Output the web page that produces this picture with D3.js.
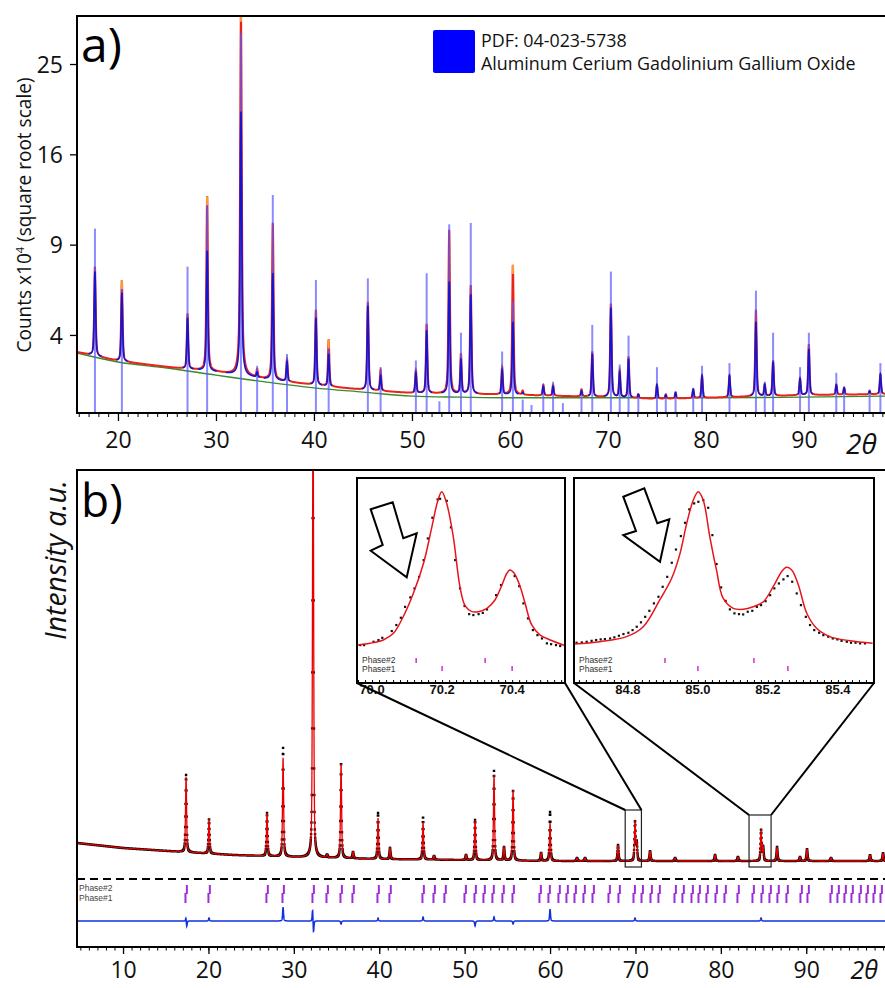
<!DOCTYPE html>
<html><head><meta charset="utf-8">
<script src="https://cdn.jsdelivr.net/npm/d3@7"></script>
<style>body{margin:0;background:#fff}svg{display:block}</style>
</head><body>
<svg id="chart" width="885" height="988"></svg>
<script>
// ================= DATA =================
// Panel a (square-root scale, counts x10^4)
const aTicksX = [20,30,40,50,60,70,80,90];
const aTicksY = [4,9,16,25];
const aBgPos = [15.8,20,25,30,35,40,45,50,55,60,70,80,90,98.3];
const aBgVal = [3.24,2.89,2.67,2.42,2.19,2.00,1.87,1.75,1.72,1.70,1.70,1.70,1.72,1.75];
const aObsBasePos = [15.8,20,25,30,35,40,45,50,55,60,70,75,80,90,98.3];
const aObsBaseVal = [3.28,2.93,2.71,2.53,2.29,2.09,1.94,1.84,1.81,1.79,1.72,1.67,1.70,1.78,1.81];
const aPeakPos  = [17.65,20.4,27.1,29.1,32.55,34.2,35.8,37.25,40.2,41.5,45.5,46.8,50.4,51.5,52.8,53.8,55.0,56.0,59.2,60.3,61.3,62.2,63.4,64.4,65.4,67.3,68.4,70.3,71.2,72.1,73.1,75.0,75.9,76.9,78.7,79.6,82.4,85.1,86.0,86.85,89.6,90.5,93.3,94.1,96.7,97.8];
const aStickTop = [10.1,6.3,7.6,11.8,28.5,2.75,12.6,3.2,6.8,3.4,6.9,2.7,2.95,7.2,1.6,10.4,4.1,10.5,3.3,5.6,1.65,1.5,2.1,2.2,1.55,1.95,4.46,7.3,2.8,3.97,1.8,2.7,1.75,1.9,2.0,2.75,2.85,6.2,2.2,4.1,2.7,4.1,2.5,2.05,1.95,2.85];
const aObsTop   = [7.6,6.8,5.0,12.5,31,2.6,10.5,3.0,5.2,3.8,5.6,2.6,2.6,4.5,null,10.0,3.2,6.5,2.7,7.7,1.9,null,2.1,2.1,null,1.95,3.3,5.5,2.6,3.1,1.8,2.1,1.8,1.85,1.95,2.4,2.4,5.2,2.1,2.95,2.3,3.6,2.1,2.0,1.9,2.45];
const aCalcTop  = [7.3,6.1,4.8,8.6,20,2.5,7.2,2.9,4.8,3.2,5.4,2.4,2.5,4.2,null,6.7,3.0,6.0,2.6,4.6,1.85,null,2.05,2.05,null,1.9,3.2,5.3,2.5,3.0,1.8,2.1,1.78,1.85,1.95,2.4,2.4,4.6,2.1,2.9,2.3,3.4,2.1,2.0,1.9,2.45];
const aOrangeTips = [20.4,29.1,32.55,41.5,60.3];
const legendLines = ["PDF: 04-023-5738","Aluminum Cerium Gadolinium Gallium Oxide"];

// Panel b (Rietveld, arbitrary units)
const bTicksX = [10,20,30,40,50,60,70,80,90];
const bBgPos = [4.6,10,17,23,30,40,50,60,80,99.3];
const bBgVal = [104,99,95,92,90,88,87,86,86,86];
const bPeakPos = [17.38,20.07,26.86,28.74,32.25,33.89,35.53,36.93,39.86,41.26,45.13,46.42,50.16,51.22,53.44,54.61,55.67,58.95,60.0,63.16,64.1,67.96,69.95,70.15,71.71,74.64,79.32,82.0,84.71,84.95,86.58,89.27,90.09,92.9,97.47,98.99];
const bCalcTop = [170,128,134,189,560,92,184,95,129,99,125,91,92,127,172,100,157,94,124,89,89,102,125,104,96,89,92,90,117,100,100,90,98,89,92,94];
const bObsTop  = [172,128,134,199,565,92,184,95,134,99,130,91,92,127,176,100,157,94,135,89,89,102,125,104,96,89,92,90,117,100,100,90,98,89,92,94];
const bPhaseTicks = [17.38,20.07,26.86,28.74,32.25,33.89,35.53,36.93,39.86,41.26,45.13,46.42,47.70,50.05,51.22,52.27,53.32,54.49,55.67,58.83,59.88,61.05,61.99,62.93,63.98,65.04,66.91,68.08,69.84,70.78,71.83,72.76,74.64,75.57,76.63,77.45,78.38,79.44,80.49,82.01,83.77,84.82,85.76,86.69,87.75,89.39,90.21,92.90,93.72,94.54,95.36,96.3,97.12,97.94,98.76];
const bDiffBase = 26;
const bDiffPos = [17.38,17.45,20.07,28.74,32.2,32.3,35.53,39.86,45.13,51.22,53.44,55.67,60.0,69.95,84.71];
const bDiffAmp = [5,-7,3,14,13,-13,-3,3,4,-5,4,-3,12,3,3];
const bDashLevel = 68;
const bZoomBoxes = [[68.8,70.7,80,137],[83.3,85.88,80,132]];

// Insets
const in1Ticks = [70.0,70.2,70.4];
const in1CalcX = [69.958,69.994,70.032,70.061,70.089,70.118,70.147,70.171,70.187,70.199,70.213,70.232,70.251,70.266,70.285,70.304,70.328,70.351,70.371,70.385,70.394,70.406,70.423,70.437,70.456,70.48,70.509,70.551];
const in1CalcY = [1.9,3.0,5.1,9.3,19.8,34.6,53.6,76.8,92.6,98.9,91.6,70.4,38.8,26.6,23.0,23.0,25.1,30.4,39.9,47.3,49.4,47.3,38.8,28.3,14.6,8.2,5.1,1.5];
const in1ObsX = [69.966,69.977,70.004,70.018,70.029,70.056,70.069,70.082,70.094,70.109,70.121,70.134,70.147,70.159,70.172,70.187,70.194,70.213,70.225,70.237,70.251,70.264,70.277,70.289,70.304,70.316,70.328,70.354,70.368,70.407,70.42,70.432,70.445,70.459,70.472,70.485,70.499,70.511,70.525,70.537];
const in1ObsY = [1.9,1.9,4.0,5.1,6.5,10.8,14.6,19.2,26.1,32.1,37.8,45.1,55.7,69.4,82.5,94.1,94.5,93.2,76.4,55.7,37.8,26.6,21.5,20.9,21.5,22.3,24.5,33.5,39.9,45.6,39.2,28.3,18.8,11.4,8.2,6.1,3.0,2.5,1.9,1.3];
const in1Phase2 = [70.126,70.323];
const in1Phase1 = [70.2,70.4];

const in2Ticks = [84.8,85.0,85.2,85.4];
const in2CalcX = [84.646,84.72,84.796,84.844,84.891,84.925,84.949,84.968,84.987,85.001,85.015,85.034,85.053,85.072,85.101,85.129,85.158,85.187,85.215,85.239,85.253,85.268,85.287,85.311,85.339,85.377,85.434,85.499];
const in2CalcY = [2.5,4.0,7.2,13.5,30.4,44.1,59.9,78.9,93.7,98.9,93.7,70.4,49.4,31.5,25.1,24.5,26.1,29.3,38.8,48.3,51.1,49.4,39.9,22.0,12.5,7.2,4.6,3.0];
const in2ObsX = [84.653,84.668,84.682,84.696,84.709,84.722,84.734,84.749,84.761,84.774,84.787,84.801,84.813,84.825,84.837,84.849,84.861,84.874,84.887,84.899,84.912,84.925,84.937,84.951,84.963,84.975,84.989,85.001,85.015,85.029,85.041,85.053,85.066,85.079,85.091,85.104,85.117,85.129,85.142,85.155,85.168,85.18,85.193,85.206,85.218,85.231,85.244,85.256,85.269,85.282,85.294,85.308,85.32,85.332,85.346,85.358,85.372,85.385,85.398,85.41,85.425,85.437,85.45,85.463,85.477];
const in2ObsY = [3.4,3.6,4.0,4.6,5.1,5.5,5.7,6.1,6.8,7.8,8.9,9.7,11.4,13.5,16.3,19.8,23.6,28.3,32.5,38.8,45.1,54.0,62.4,70.9,79.3,87.8,91.6,92.6,93.7,88.8,71.5,53.2,38.4,29.9,24.5,22.0,21.5,21.3,23.0,23.6,26.1,27.2,29.7,33.5,37.8,40.9,43.5,45.6,42.0,34.6,27.2,19.8,14.6,11.4,9.7,8.2,7.2,6.1,5.5,4.6,4.0,3.4,3.4,3.0,3.0];
const in2Phase2 = [84.906,85.16];
const in2Phase1 = [85.0,85.257];

// ================= DRAWING =================
const FONT = "'Open Sans','Noto Sans',sans-serif";
const SMALL = "'Liberation Sans', Arial, sans-serif";
const svg = d3.select('#chart');
const defs = svg.append('defs');
defs.append('clipPath').attr('id','clipA').append('rect').attr('x',77).attr('y',16).attr('width',808).attr('height',397);
defs.append('clipPath').attr('id','clipB').append('rect').attr('x',77).attr('y',470).attr('width',808).attr('height',477);

function pv(x, x0, fwhm){ const d = 2*(x-x0)/fwhm; return 0.5/(1+d*d) + 0.5*Math.exp(-Math.LN2*d*d); }
function fit(sel, w){ const l = sel.node().getComputedTextLength(); const fs = parseFloat(sel.attr('font-size')); sel.attr('font-size', (fs*w/l).toFixed(2)); }

// ---------- Panel a ----------
const ax = d3.scaleLinear().domain([15.82, 98.27]).range([77, 885]);
const ay = d3.scalePow().exponent(0.5).domain([1.29, 30.6]).range([413, 16]);
const obsBaseA = d3.scaleLinear().domain(aObsBasePos).range(aObsBaseVal).clamp(true);
const FWA = 0.16;
const xsA = d3.range(15.8, 98.4, 0.01);
const obsA = xsA.map(x => { let s = obsBaseA(x);
  aPeakPos.forEach((p,i)=>{ if(aObsTop[i]!=null && Math.abs(x-p)<5) s += Math.max(0,aObsTop[i]-obsBaseA(p))*pv(x,p,FWA); });
  return [x,s]; });
const calcA = xsA.map(x => { let pk = 0;
  aPeakPos.forEach((p,i)=>{ if(aCalcTop[i]!=null && Math.abs(x-p)<5) pk += Math.max(0,aCalcTop[i]-obsBaseA(p))*pv(x,p,FWA); });
  return [x, obsBaseA(x)+pk, pk]; });

const gA = svg.append('g').attr('clip-path','url(#clipA)');
const lineA = d3.line().x(d=>ax(d[0])).y(d=>ay(d[1]));
gA.append('path').datum(d3.zip(aBgPos,aBgVal)).attr('d', lineA.curve(d3.curveMonotoneX))
  .attr('fill','none').attr('stroke','#3a8a2a').attr('stroke-width',1.4);
gA.append('path').datum(obsA).attr('d', d3.line().x(d=>ax(d[0])).y(d=>ay(d[1])))
  .attr('fill','none').attr('stroke','#e8231c').attr('stroke-width',2);
gA.selectAll('line.stick').data(aPeakPos).join('line').attr('class','stick')
  .attr('x1',d=>ax(d)).attr('x2',d=>ax(d)).attr('y1',ay.range()[0]).attr('y2',(d,i)=>ay(aStickTop[i]))
  .attr('stroke','#5a5aff').attr('stroke-opacity',0.7).attr('stroke-width',2);
gA.append('path').datum(calcA).attr('d', d3.line().defined(d=>d[2]>0.03).x(d=>ax(d[0])).y(d=>ay(d[1])))
  .attr('fill','none').attr('stroke','#1414d2').attr('stroke-width',1.6);
gA.selectAll('line.tip').data(aOrangeTips).join('line').attr('class','tip')
  .attr('x1',d=>ax(d)).attr('x2',d=>ax(d))
  .attr('y1',d=>ay(aObsTop[aPeakPos.indexOf(d)]))
  .attr('y2',d=>ay(aObsTop[aPeakPos.indexOf(d)])+9)
  .attr('stroke','#ff9a3a').attr('stroke-width',2.2);

// frame a
svg.append('path').attr('d','M885,16H77V413H885').attr('fill','none').attr('stroke','#000').attr('stroke-width',2);
// axes a
const axA = svg.append('g').attr('transform','translate(0,413)')
  .call(d3.axisBottom(ax).tickValues(aTicksX).tickSize(8).tickSizeOuter(0).tickFormat(d3.format('d')));
axA.select('.domain').remove();
axA.selectAll('line').attr('stroke','#000').attr('stroke-width',1.3);
axA.selectAll('text').attr('y',35).attr('dy',null).attr('font-family',FONT).attr('font-size',23).attr('fill','#111');
const mnA = svg.append('g').attr('transform','translate(0,413)')
  .call(d3.axisBottom(ax).tickValues(d3.range(16,99,1)).tickSize(4).tickFormat(''));
mnA.select('.domain').remove(); mnA.selectAll('line').attr('stroke','#000').attr('stroke-width',1);
const ayA = svg.append('g').attr('transform','translate(77,0)')
  .call(d3.axisLeft(ay).tickValues(aTicksY).tickSize(7).tickSizeOuter(0).tickFormat(d3.format('d')));
ayA.select('.domain').remove();
ayA.selectAll('line').attr('stroke','#000').attr('stroke-width',1.3);
ayA.selectAll('text').attr('x',-14).attr('dy','0.36em').attr('font-family',FONT).attr('font-size',23).attr('fill','#111');

// labels a
svg.append('text').attr('x',81).attr('y',62).attr('font-family',FONT).attr('font-size',48).attr('fill','#000').text('a)');
const cl = svg.append('text').attr('transform','translate(31,215) rotate(-90)').attr('text-anchor','middle')
  .attr('font-family',FONT).attr('font-size',17).attr('fill','#111');
cl.append('tspan').text('Counts x10');
cl.append('tspan').attr('dy',-7).attr('font-size',11).text('4');
cl.append('tspan').attr('dy',7).text(' (square root scale)');
fit(cl, 276);
svg.append('text').attr('x',846).attr('y',454).attr('font-family',FONT).attr('font-style','italic')
  .attr('font-size',28).attr('fill','#111').text('2θ');

// legend a
svg.append('rect').attr('x',433).attr('y',30).attr('width',42).attr('height',43).attr('rx',2).attr('fill','#0000ff');
const lg1 = svg.append('text').attr('x',481).attr('y',47).attr('font-family',FONT).attr('font-size',19).attr('fill','#111').text(legendLines[0]);
const lg2 = svg.append('text').attr('x',481).attr('y',70).attr('font-family',FONT).attr('font-size',19).attr('fill','#111').text(legendLines[1]);
fit(lg2, 375); lg1.attr('font-size', lg2.attr('font-size'));

// ---------- Panel b ----------
const bx = d3.scaleLinear().domain([4.61, 99.22]).range([77, 885]);
const by = d3.scaleLinear().domain([0, 477]).range([947, 470]);
const bgB = d3.scaleLinear().domain(bBgPos).range(bBgVal).clamp(true);
const FWB = 0.15;
const xsB = d3.range(4.6, 99.3, 0.02);
function profB(tops, x){ let s = bgB(x);
  bPeakPos.forEach((p,i)=>{ if(Math.abs(x-p)<4) s += Math.max(0,tops[i]-bgB(p))*pv(x,p,FWB); }); return s; }
const calcB = xsB.map(x=>[x, profB(bCalcTop,x)]);
const obsB  = xsB.map(x=>[x, profB(bObsTop,x)]);
const diffB = xsB.map(x=>{ let s = bDiffBase; bDiffPos.forEach((p,i)=>{ if(Math.abs(x-p)<2) s += bDiffAmp[i]*pv(x,p,0.12); }); return [x,s]; });

const gB = svg.append('g').attr('clip-path','url(#clipB)');
gB.append('path').attr('d', obsB.map(d=>`M${(bx(d[0])-1.2).toFixed(2)},${(by(d[1])-1.2).toFixed(2)}h2.4v2.4h-2.4z`).join(''))
  .attr('fill','#000');
gB.append('path').datum(calcB).attr('d', d3.line().x(d=>bx(d[0])).y(d=>by(d[1])))
  .attr('fill','none').attr('stroke','#e80000').attr('stroke-width',1.3);
gB.append('line').attr('x1',77).attr('x2',885).attr('y1',by(bDashLevel)).attr('y2',by(bDashLevel))
  .attr('stroke','#000').attr('stroke-width',2).attr('stroke-dasharray','8,5');
gB.selectAll('line.p2').data(bPhaseTicks).join('line').attr('class','p2')
  .attr('x1',d=>bx(d)+0.8).attr('x2',d=>bx(d)+0.8).attr('y1',885).attr('y2',894)
  .attr('stroke','#9a2fd6').attr('stroke-width',2);
gB.selectAll('line.p1').data(bPhaseTicks).join('line').attr('class','p1')
  .attr('x1',d=>bx(d)-0.6).attr('x2',d=>bx(d)-0.6).attr('y1',893).attr('y2',903)
  .attr('stroke','#9a2fd6').attr('stroke-width',2);
svg.append('text').attr('x',79).attr('y',891).attr('font-family',SMALL).attr('font-size',8.5).attr('fill','#444').text('Phase#2');
svg.append('text').attr('x',79).attr('y',901).attr('font-family',SMALL).attr('font-size',8.5).attr('fill','#444').text('Phase#1');
gB.append('path').datum(diffB).attr('d', d3.line().x(d=>bx(d[0])).y(d=>by(d[1])))
  .attr('fill','none').attr('stroke','#1030e0').attr('stroke-width',1.5);
gB.selectAll('rect.zb').data(bZoomBoxes).join('rect').attr('class','zb')
  .attr('x',d=>bx(d[0])).attr('y',d=>by(d[3])).attr('width',d=>bx(d[1])-bx(d[0])).attr('height',d=>by(d[2])-by(d[3]))
  .attr('fill','none').attr('stroke','#222').attr('stroke-width',1.2);

svg.append('path').attr('d','M885,470H77V947H885').attr('fill','none').attr('stroke','#000').attr('stroke-width',2);
const axB = svg.append('g').attr('transform','translate(0,947)')
  .call(d3.axisBottom(bx).tickValues(bTicksX).tickSize(7).tickSizeOuter(0).tickFormat(d3.format('d')));
axB.select('.domain').remove();
axB.selectAll('line').attr('stroke','#000').attr('stroke-width',1.3);
axB.selectAll('text').attr('y',31).attr('dy',null).attr('font-family',FONT).attr('font-size',23).attr('fill','#111');
const mnB = svg.append('g').attr('transform','translate(0,947)')
  .call(d3.axisBottom(bx).tickValues(d3.range(5,100,1)).tickSize(3.5).tickFormat(''));
mnB.select('.domain').remove(); mnB.selectAll('line').attr('stroke','#000').attr('stroke-width',1);

svg.append('text').attr('x',81).attr('y',517).attr('font-family',FONT).attr('font-size',46).attr('fill','#000').text('b)');
const il = svg.append('text').attr('transform','translate(66,560) rotate(-90)').attr('text-anchor','middle')
  .attr('font-family',FONT).attr('font-style','italic').attr('font-size',22).attr('fill','#111').text('Intensity a.u.');
fit(il, 160);
svg.append('text').attr('x',878).attr('y',979).attr('text-anchor','end').attr('font-family',FONT).attr('font-style','italic')
  .attr('font-size',25).attr('fill','#111').text('2θ');

// ---------- Insets ----------
function drawInset(c){
  const g = svg.append('g');
  const id = 'clip'+c.id;
  defs.append('clipPath').attr('id',id).append('rect').attr('x',c.x0).attr('y',c.y0).attr('width',c.x1-c.x0).attr('height',c.y1-c.y0);
  const sx = d3.scaleLinear().domain(c.domain).range([c.x0, c.x1]);
  const sy = d3.scaleLinear().domain([0,100]).range([648,490]);
  g.append('rect').attr('x',c.x0).attr('y',c.y0).attr('width',c.x1-c.x0).attr('height',c.y1-c.y0).attr('fill','#fff');
  const gi = g.append('g').attr('clip-path',`url(#${id})`);
  gi.selectAll('rect.dot').data(d3.zip(c.obsX,c.obsY)).join('rect').attr('class','dot')
    .attr('x',d=>sx(d[0])-1).attr('y',d=>sy(d[1])-1).attr('width',2.2).attr('height',2.2).attr('fill','#111');
  gi.append('path').datum(d3.zip(c.calcX,c.calcY)).attr('d', d3.line().x(d=>sx(d[0])).y(d=>sy(d[1])).curve(d3.curveCatmullRom))
    .attr('fill','none').attr('stroke','#e8141b').attr('stroke-width',1.5);
  gi.selectAll('line.q2').data(c.ph2).join('line').attr('class','q2')
    .attr('x1',d=>sx(d)).attr('x2',d=>sx(d)).attr('y1',658).attr('y2',663).attr('stroke','#d23ad6').attr('stroke-width',1.6);
  gi.selectAll('line.q1').data(c.ph1).join('line').attr('class','q1')
    .attr('x1',d=>sx(d)).attr('x2',d=>sx(d)).attr('y1',666).attr('y2',671).attr('stroke','#d23ad6').attr('stroke-width',1.6);
  g.append('text').attr('x',c.x0+5).attr('y',663).attr('font-family',SMALL).attr('font-size',8.5).attr('fill','#333').text('Phase#2');
  g.append('text').attr('x',c.x0+5).attr('y',672).attr('font-family',SMALL).attr('font-size',8.5).attr('fill','#333').text('Phase#1');
  g.append('polygon').attr('points', c.arrow.map(p=>[c.x0+p[0], c.y0+p[1]].join(',')).join(' '))
    .attr('fill','#fff').attr('stroke','#000').attr('stroke-width',2).attr('stroke-linejoin','miter');
  const mn = g.append('g').attr('transform',`translate(0,${c.y1})`)
    .call(d3.axisTop(sx).tickValues(c.minor).tickSize(3).tickFormat(''));
  mn.select('.domain').remove(); mn.selectAll('line').attr('stroke','#000').attr('stroke-width',1);
  g.append('rect').attr('x',c.x0).attr('y',c.y0).attr('width',c.x1-c.x0).attr('height',c.y1-c.y0)
    .attr('fill','none').attr('stroke','#000').attr('stroke-width',2);
  g.selectAll('text.tl').data(c.ticks).join('text').attr('class','tl')
    .attr('x',d=>sx(d)).attr('y',c.y1+11).attr('text-anchor','middle')
    .attr('font-family',SMALL).attr('font-weight','bold').attr('font-size',13).attr('fill','#111')
    .text(d=>d3.format('.1f')(d));
}
drawInset({id:'i1', x0:357, x1:565, y0:478, y1:683, domain:[69.957,70.551], calcX:in1CalcX, calcY:in1CalcY, obsX:in1ObsX, obsY:in1ObsY,
  ph2:in1Phase2, ph1:in1Phase1, ticks:in1Ticks, minor:d3.range(69.96,70.55,0.02),
  arrow:[[13.7,31.3],[35.7,24.3],[46.3,60.3],[59.7,55.3],[49.7,99.3],[13.7,72.7],[25.7,67]]});
drawInset({id:'i2', x0:574, x1:874, y0:478, y1:683, domain:[84.646,85.503], calcX:in2CalcX, calcY:in2CalcY, obsX:in2ObsX, obsY:in2ObsY,
  ph2:in2Phase2, ph1:in2Phase1, ticks:in2Ticks, minor:d3.range(84.66,85.5,0.02),
  arrow:[[49.3,18.7],[70.3,10.3],[83.3,45.3],[95.3,41.3],[86,83.7],[49.3,57],[62,53]]});

const conn = [
  [357,683, bx(bZoomBoxes[0][0]), by(bZoomBoxes[0][3])],
  [565,683, bx(bZoomBoxes[0][1]), by(bZoomBoxes[0][3])],
  [574,683, bx(bZoomBoxes[1][0]), by(bZoomBoxes[1][3])],
  [874,683, bx(bZoomBoxes[1][1]), by(bZoomBoxes[1][3])]];
svg.selectAll('line.conn').data(conn).join('line').attr('class','conn')
  .attr('x1',d=>d[0]).attr('y1',d=>d[1]).attr('x2',d=>d[2]).attr('y2',d=>d[3])
  .attr('stroke','#000').attr('stroke-width',2);
</script>
</body></html>
